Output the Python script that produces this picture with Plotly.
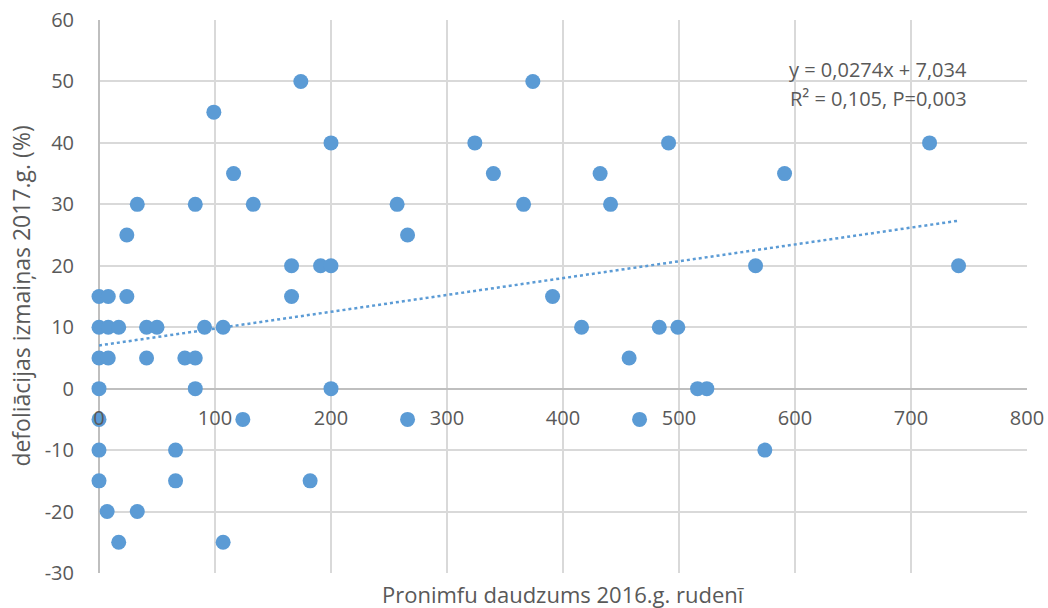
import plotly.graph_objects as go

# Data
pronimfu = [0, 0, 0, 0, 0, 0, 0,
            8, 8, 8, 7,
            17, 17,
            24, 24,
            33, 33,
            41, 50, 41,
            66, 66,
            74, 83, 83, 83,
            91, 99,
            107, 107,
            116, 124, 133,
            166, 166, 174, 182, 191, 200, 200, 200,
            257, 266, 266,
            324, 340, 366, 374, 391, 416, 432, 441, 457, 466,
            483, 491, 499, 516, 524, 566, 574, 591, 716, 741]
defoliacija = [10, 15, 5, 0, -5, -10, -15,
               15, 10, 5, -20,
               10, -25,
               15, 25,
               30, -20,
               10, 10, 5,
               -10, -15,
               5, 5, 0, 30,
               10, 45,
               10, -25,
               35, -5, 30,
               20, 15, 50, -15, 20, 20, 40, 0,
               30, 25, -5,
               40, 35, 30, 50, 15, 10, 35, 30, 5, -5,
               10, 40, 10, 0, 0, 20, -10, 35, 40, 20]

trend_slope = 0.0274
trend_intercept = 7.034
trend_x = [0, max(pronimfu)]
trend_y = [trend_intercept + trend_slope * v for v in trend_x]

x_ticks = [0, 100, 200, 300, 400, 500, 600, 700, 800]
y_ticks = [-30, -20, -10, 0, 10, 20, 30, 40, 50, 60]

blue = "#5b9bd5"
text_col = "#595959"
font_family = "Open Sans, Calibri, Carlito, sans-serif"

fig = go.Figure()
fig.add_trace(go.Scatter(
    x=trend_x, y=trend_y, mode="lines",
    line=dict(color=blue, width=2.5, dash="dot"),
    hoverinfo="skip", showlegend=False, cliponaxis=False))
fig.add_trace(go.Scatter(
    x=pronimfu, y=defoliacija, mode="markers",
    marker=dict(color=blue, size=15, line=dict(width=0)),
    showlegend=False, cliponaxis=False))

fig.update_layout(
    width=1048, height=608,
    margin=dict(l=99, r=21, t=20, b=35),
    paper_bgcolor="white", plot_bgcolor="white",
    font=dict(family=font_family, color=text_col, size=20),
    xaxis=dict(
        range=[0, 800], tickvals=x_ticks, ticktext=[str(v) for v in x_ticks],
        showgrid=True, gridcolor="#d9d9d9", gridwidth=2,
        zeroline=True, zerolinecolor="#bfbfbf", zerolinewidth=2,
        showline=False, anchor="free", position=1/3, automargin=False,
        ticks="outside", ticklen=11, tickcolor="rgba(0,0,0,0)",
        tickfont=dict(size=20, color=text_col), layer="above traces",
    ),
    yaxis=dict(
        range=[-30, 60], tickvals=y_ticks, ticktext=[str(v) for v in y_ticks],
        showgrid=True, gridcolor="#d9d9d9", gridwidth=2,
        zeroline=True, zerolinecolor="#bfbfbf", zerolinewidth=2,
        showline=False, automargin=False,
        ticks="outside", ticklen=20, tickcolor="rgba(0,0,0,0)",
        tickfont=dict(size=20, color=text_col),
    ),
    annotations=[
        dict(text="Pronimfu daudzums 2016.g. rudenī", xref="paper", yref="paper",
             x=0.5, y=-0.038, xanchor="center", yanchor="middle", showarrow=False,
             font=dict(size=22, color=text_col)),
        dict(text="defoliācijas izmaiņas 2017.g. (%)", xref="paper", yref="paper",
             x=-0.085, y=0.5, xanchor="center", yanchor="middle", showarrow=False,
             textangle=-90, font=dict(size=23, color=text_col)),
        dict(text="y = 0,0274x + 7,034", xref="x", yref="y",
             x=750, y=51.9, xanchor="right", yanchor="middle", showarrow=False,
             font=dict(size=20, color=text_col)),
        dict(text="R² = 0,105, P=0,003", xref="x", yref="y",
             x=750, y=47.3, xanchor="right", yanchor="middle", showarrow=False,
             font=dict(size=20, color=text_col)),
    ],
)

fig.write_html(
    "out.html",
    config={"displayModeBar": False},
    post_script="document.body.style.margin='0';document.body.style.overflow='hidden';",
)
